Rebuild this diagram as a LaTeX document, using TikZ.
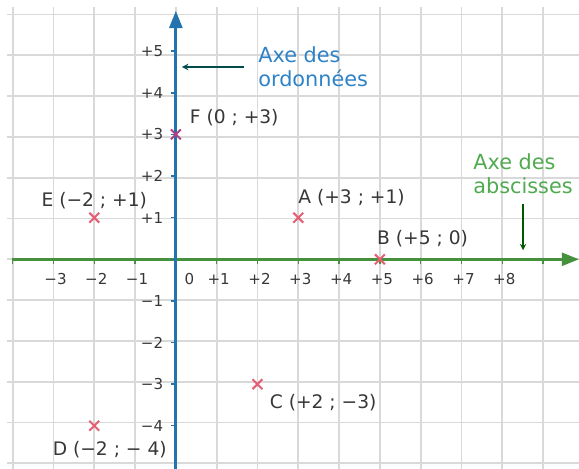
\documentclass[tikz,border=0pt]{standalone}
\usepackage{fontspec}
\setmainfont{DejaVu Sans}
\usetikzlibrary{positioning, shapes.misc, arrows.meta}

\definecolor{axisgreen}{RGB}{70,145,60}
\definecolor{axisblue}{RGB}{35,115,175}
\definecolor{titlegreen}{RGB}{80,170,80}
\definecolor{titleblue}{RGB}{45,130,200}
\definecolor{crossred}{RGB}{228,95,115}
\definecolor{crosspurple}{RGB}{175,65,130}
\definecolor{textgray}{RGB}{55,55,55}

\tikzset{
  gridline/.style={gray!30, line width=1.2pt},
  xaxis/.style={axisgreen, line width=2pt, -{Triangle[length=12pt,width=9pt]}},
  yaxis/.style={axisblue, line width=2pt, -{Triangle[length=12pt,width=9pt]}},
  point/.style={cross out, draw=crossred, line width=1.4pt, minimum size=5.5pt, inner sep=0pt},
  ptlabel/.style={text=textgray, font=\fontsize{13}{15}\selectfont, inner sep=1pt},
  ticklabel/.style={text=textgray, font=\fontsize{10.5}{12}\selectfont, inner sep=1pt},
  axtitle/.style={font=\fontsize{14.5}{17}\selectfont, align=left, inner sep=1pt},
  annot/.style={line width=1pt, ->, >=stealth}
}

\begin{document}
\begin{tikzpicture}[x=1cm, y=1.02cm]
  \useasboundingbox (-4.31,-5.02) rectangle (9.88,6.23);

  % Grid
  \draw[gridline] (-4.15,-5.1) grid (9.95,6.07);

  % Axes
  \coordinate (origin) at (0,0);
  \coordinate (xstart) at (-4,0);
  \coordinate (xend) at (9.88,0);
  \coordinate (ystart) at (0,-5.1);
  \coordinate (yend) at (0,5.97);
  \draw[xaxis] (xstart) -- (xend);
  \foreach \x in {-4,...,9}
    \draw[axisgreen, line width=1pt] (\x,0.04) -- (\x,-0.12);
  \draw[yaxis] (ystart) -- (yend);
  \foreach \y in {-4,...,5}
    \draw[axisblue, line width=1pt] (-0.12,\y) -- (0,\y);

  % Graduations
  \foreach \x/\t in {-3/−3,-2/−2,-1/−1,1/+1,2/+2,3/+3,4/+4,5/+5,6/+6,7/+7,8/+8}
    \node[ticklabel] (xlbl\x) at (\x+0.05,-0.48) {\t};
  \node[ticklabel] (xlbl0) at (0.33,-0.48) {0};
  \foreach \y/\t in {-4/−4,-3/−3,-2/−2,-1/−1,1/+1,2/+2,3/+3,4/+4,5/+5}
    \node[ticklabel, anchor=east] (ylbl\y) at (-0.27,\y) {\t};

  % Points
  \node[point] (ptA) at (3,1) {};
  \node[point] (ptB) at (5,0) {};
  \node[point] (ptC) at (2,-3) {};
  \node[point] (ptD) at (-2,-4) {};
  \node[point] (ptE) at (-2,1) {};
  \node[point, draw=crosspurple] (ptF) at (0,3) {};

  \node[ptlabel, above right=0.13cm and -0.16cm of ptA] (lblA) {A (+3 ; +1)};
  \node[ptlabel, above right=0.14cm and -0.23cm of ptB] (lblB) {B (+5 ; 0)};
  \node[ptlabel, below right=0.08cm and 0.14cm of ptC] (lblC) {C (+2 ; −3)};
  \node[ptlabel, below=0.21cm of ptD, xshift=0.38cm] (lblD) {D (−2 ; − 4)};
  \node[ptlabel, above=0.06cm of ptE] (lblE) {E (−2 ; +1)};
  \node[ptlabel, above right=0.05cm and 0.18cm of ptF] (lblF) {F (0 ; +3)};

  % Axis names
  \node[axtitle, text=titleblue, anchor=west] (ordo) at (1.98,4.62) {Axe des\\ordonnées};
  \draw[annot, teal!60!black, shorten <=0.3cm, shorten >=0.15cm] (ordo.west) -- (ordo.west -| origin);
  \node[axtitle, text=titlegreen, anchor=west] (absc) at (7.25,2.06) {Axe des\\abscisses};
  \draw[annot, green!35!black, shorten <=0.2cm, shorten >=0.22cm] (absc.south) -- (absc.south |- origin);
\end{tikzpicture}
\end{document}
